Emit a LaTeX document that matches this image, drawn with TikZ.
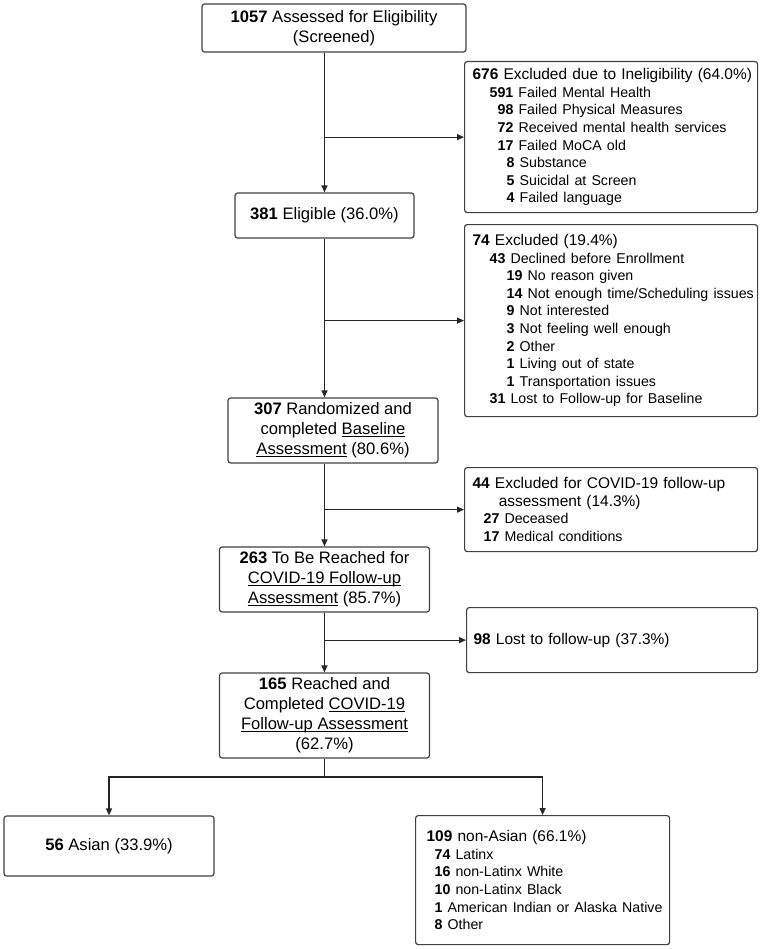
\documentclass[tikz,border=0pt]{standalone}
\usepackage{fontspec}
\setmainfont{Liberation Sans}
\usetikzlibrary{arrows.meta}

\newcommand{\mainfs}{\fontsize{12.45}{15}\selectfont}
\newcommand{\headfs}{\fontsize{11.6}{13.2}\selectfont}
\newcommand{\subfs}{\fontsize{10.65}{13.2}\selectfont}
% one line of a list box: indent, count, words
\newcommand{\hd}[3]{\hspace*{#1}\mbox{\headfs\textbf{#2} #3}}
\newcommand{\sub}[3]{\\\hspace*{#1}\mbox{\subfs\textbf{#2} #3}}
\newcommand{\ul}[1]{\underline{\smash{#1}}}

\tikzset{every picture/.style={line width=0.9pt}}
\tikzset{
  mainbox/.style={draw=black!75, rounded corners=2pt, align=center, inner sep=0pt, font=\mainfs},
  listbox/.style={draw=black!75, rounded corners=2pt, anchor=north west, align=left, inner xsep=0pt, inner ysep=0pt, font=\headfs},
  flow/.style={draw=black!85, -{Triangle[length=5.25pt,width=4.5pt]}}
}

\begin{document}
\begin{tikzpicture}[x=0.75pt,y=0.75pt,yscale=-1,xscale=1]
\path[use as bounding box] (0,0) rectangle (765,949);

%Main boxes
\node [mainbox, minimum width=198pt, minimum height=36pt] (n1057) at (334,28) {\textbf{1057} Assessed for Eligibility\\(Screened)};
\node [mainbox, minimum width=134.25pt, minimum height=33.75pt] (n381) at (324.5,215.5) {\textbf{381} Eligible (36.0\%)};
\node [mainbox, minimum width=157.5pt, minimum height=48.75pt] (n307) at (333,430.5) {\textbf{307} Randomized and\\completed \ul{Baseline}\\\ul{Assessment} (80.6\%)};
\node [mainbox, minimum width=157.5pt, minimum height=48.75pt] (n263) at (324.5,579.5) {\textbf{263} To Be Reached for\\\ul{COVID-19 Follow-up}\\\ul{Assessment} (85.7\%)};
\node [mainbox, minimum width=157.5pt, minimum height=63.75pt] (n165) at (324.5,715.5) {\textbf{165} Reached and\\Completed \ul{COVID-19}\\\ul{Follow-up Assessment}\\(62.7\%)};
\node [mainbox, minimum width=157.5pt, minimum height=45pt] (nAsian) at (109,846) {\textbf{56} Asian (33.9\%)};

%List boxes
\node [listbox, text width=219.75pt, minimum height=113.25pt] (n676) at (464,61) {\hd{6pt}{676}{Excluded due to Ineligibility (64.0\%)}%
\sub{18.75pt}{591}{Failed Mental Health}%
\sub{24.75pt}{98}{Failed Physical Measures}%
\sub{24.75pt}{72}{Received mental health services}%
\sub{24.75pt}{17}{Failed MoCA old}%
\sub{31.5pt}{8}{Substance}%
\sub{31.5pt}{5}{Suicidal at Screen}%
\sub{31.5pt}{4}{Failed language}};
\node [listbox, text width=219.75pt, minimum height=144pt] (n74) at (464,224) {\hd{6pt}{74}{Excluded (19.4\%)}%
\sub{18.75pt}{43}{Declined before Enrollment}%
\sub{31.5pt}{19}{No reason given}%
\sub{31.5pt}{14}{Not enough time/Scheduling issues}%
\sub{31.5pt}{9}{Not interested}%
\sub{31.5pt}{3}{Not feeling well enough}%
\sub{31.5pt}{2}{Other}%
\sub{31.5pt}{1}{Living out of state}%
\sub{31.5pt}{1}{Transportation issues}%
\sub{18.75pt}{31}{Lost to Follow-up for Baseline}};
\node [listbox, text width=219.75pt, minimum height=63pt] (n44) at (464,467) {\hd{6pt}{44}{Excluded for COVID-19 follow-up}\\\hd{21.75pt}{}{assessment (14.3\%)}%
\sub{14.25pt}{27}{Deceased}%
\sub{14.25pt}{17}{Medical conditions}};
\node [listbox, text width=218.25pt, minimum height=48.75pt] (n98) at (466,607) {\hd{5.25pt}{98}{Lost to follow-up (37.3\%)}};
\node [listbox, text width=190.5pt, minimum height=96.75pt] (nNon) at (415,815) {\hd{8.25pt}{109}{non-Asian (66.1\%)}%
\sub{14.25pt}{74}{Latinx}%
\sub{14.25pt}{16}{non-Latinx White}%
\sub{14.25pt}{10}{non-Latinx Black}%
\sub{14.25pt}{1}{American Indian or Alaska Native}%
\sub{14.25pt}{8}{Other}};

%Straight Lines
\coordinate (s1) at (n381 |- n676.west);
\coordinate (s2) at (n381 |- n74.west);
\coordinate (s3) at (n263 |- n44.west);
\coordinate (s4) at (n263 |- n98.west);
\coordinate (s5) at (324.5,777);
\draw [flow] (n381 |- n1057.south) -- (n381.north);
\draw [flow] (s1) -- (n676.west);
\draw [flow] (n381.south) -- (n381.south |- n307.north);
\draw [flow] (s2) -- (n74.west);
\draw [flow] (n263 |- n307.south) -- (n263.north);
\draw [flow] (s3) -- (n44.west);
\draw [flow] (n263.south) -- (n165.north);
\draw [flow] (s4) -- (n98.west);
\draw [draw=black!85] (n165.south) -- (s5);
\draw [flow] (s5) -| (nAsian.north);
\draw [flow] (s5) -| (nNon.north);

\end{tikzpicture}
\end{document}
